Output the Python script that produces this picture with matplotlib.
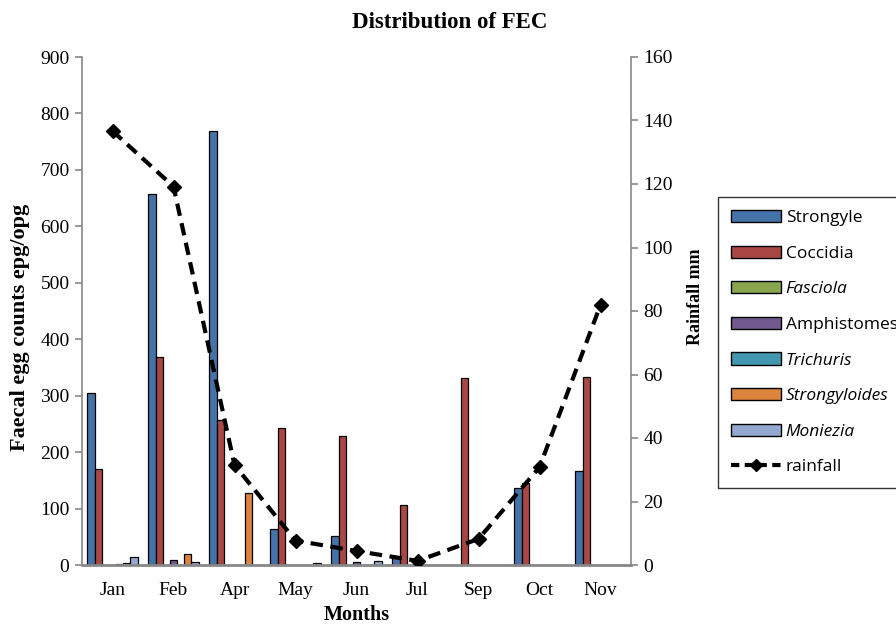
import matplotlib
matplotlib.use("Agg")
import matplotlib.pyplot as plt
from matplotlib.lines import Line2D
from matplotlib.patches import Patch
import numpy as np

months = ["Jan", "Feb", "Apr", "May", "Jun", "Jul", "Sep", "Oct", "Nov"]
strongyle = [305, 657, 769, 63, 52, 12, 0, 136, 167]
coccidia = [170, 369, 257, 242, 229, 106, 332, 146, 333]
fasciola = [0, 0, 0, 0, 0, 0, 0, 0, 0]
amphistomes = [0, 8, 0, 0, 6, 0, 0, 0, 0]
trichuris = [1, 0, 0, 0, 0, 0, 0, 0, 0]
strongyloides = [3, 19, 127, 0, 0, 0, 0, 0, 0]
moniezia = [15, 5, 0, 3, 7, 0, 0, 0, 0]
rainfall = [136.7, 119.2, 31.5, 7.7, 4.4, 1.3, 8.2, 30.8, 81.9]

series_names = ["Strongyle", "Coccidia", "Fasciola", "Amphistomes", "Trichuris", "Strongyloides", "Moniezia"]
series_vals = [strongyle, coccidia, fasciola, amphistomes, trichuris, strongyloides, moniezia]
colors = ["#4572A7", "#AA4643", "#89A54E", "#71588F", "#4198AF", "#DB843D", "#93A9CF"]
italic = [False, False, True, False, True, True, True]

W, H = 896, 627
fig = plt.figure(figsize=(W / 100, H / 100), dpi=100)
L, R, T, B = 82, 631, 57, 565
ax = fig.add_axes([L / W, 1 - B / H, (R - L) / W, (B - T) / H])
serif = "Liberation Serif"

x = np.arange(len(months))
bw = 0.118
for k, (vals, c) in enumerate(zip(series_vals, colors)):
    ax.bar(x + (k - 3) * bw, vals, width=bw, color=c, edgecolor="black", linewidth=0.9, zorder=2)

ax.set_xlim(-0.5, len(months) - 0.5)
ax.set_ylim(0, 900)
ax.set_yticks(range(0, 901, 100))
ax.set_xticks(x)
ax.set_xticklabels(months)
ax.tick_params(axis="x", length=0, pad=12)
ax.tick_params(axis="y", length=5, color="#888888", width=1.2, pad=4)
for lab in ax.get_xticklabels() + ax.get_yticklabels():
    lab.set_fontfamily(serif)
    lab.set_fontsize(14)
ax.spines["top"].set_visible(False)
ax.spines["right"].set_visible(False)
ax.spines["left"].set_color("#888888")
ax.spines["left"].set_linewidth(1.2)
ax.spines["bottom"].set_color("#888888")
ax.spines["bottom"].set_linewidth(2)

ax2 = ax.twinx()
ax2.set_ylim(0, 160)
ax2.set_yticks(range(0, 161, 20))
ax2.plot(x, rainfall, color="black", linestyle=(0, (3, 1.8)), linewidth=3,
         marker="D", markersize=7, zorder=3)
ax2.tick_params(axis="y", length=5, color="#888888", width=1.2, pad=4)
for lab in ax2.get_yticklabels():
    lab.set_fontfamily(serif)
    lab.set_fontsize(14)
for s in ["top", "left", "bottom"]:
    ax2.spines[s].set_visible(False)
ax2.spines["right"].set_color("#888888")
ax2.spines["right"].set_linewidth(1.2)

fig.text(450 / W, 1 - 22 / H, "Distribution of FEC", fontfamily=serif, fontweight="bold",
         fontsize=16.5, ha="center", va="center")
fig.text(20 / W, 1 - 327 / H, "Faecal egg counts epg/opg", fontfamily=serif, fontweight="bold",
         fontsize=16, rotation=90, ha="center", va="center")
fig.text(695 / W, 1 - 297 / H, "Rainfall mm", fontfamily=serif, fontweight="bold",
         fontsize=13, rotation=90, ha="center", va="center")
fig.text(357 / W, 1 - 615 / H, "Months", fontfamily=serif, fontweight="bold",
         fontsize=14.5, ha="center", va="center")

handles = [Patch(facecolor=c, edgecolor="black", linewidth=1) for c in colors]
handles.append(Line2D([0], [0], color="black", linestyle=(0, (2, 1.3)), linewidth=3,
                      marker="D", markersize=6))
labels = series_names + ["rainfall"]
leg = fig.legend(handles, labels, loc="upper left", bbox_to_anchor=(718 / W, 1 - 197 / H),
                 borderaxespad=0, frameon=True, fancybox=False, edgecolor="black",
                 prop={"family": "Open Sans", "size": 12.5}, handlelength=2.9,
                 handletextpad=0.25, labelspacing=1.12, borderpad=0.75)
leg.get_frame().set_linewidth(1)
for t, it in zip(leg.get_texts(), italic + [False]):
    if it:
        t.set_fontstyle("italic")

fig.savefig("out.png", dpi=100)
